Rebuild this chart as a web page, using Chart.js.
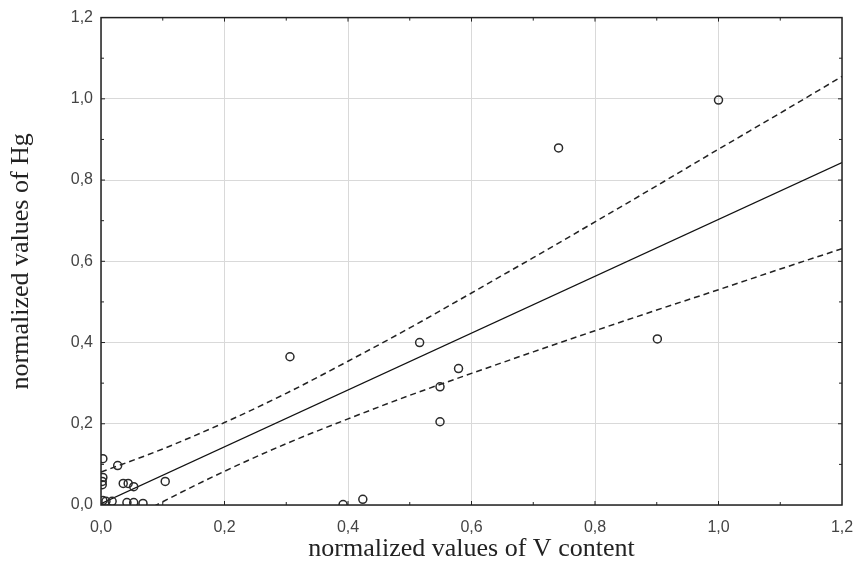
<!DOCTYPE html>
<html>
<head>
<meta charset="utf-8">
<script src="https://cdn.jsdelivr.net/npm/chart.js@4.4.0/dist/chart.umd.min.js"></script>
<style>
  html, body { margin: 0; padding: 0; background: #fff; }
  #wrap { width: 859px; height: 565px; }
</style>
</head>
<body>
<div id="wrap"><canvas id="chart"></canvas></div>
<script>
// measured points: normalized V content vs normalized Hg
const vContent = [0.003, 0.027, 0.003, 0.002, 0.002, 0.036, 0.044, 0.053, 0.104,
                  0.003, 0.008, 0.018, 0.042, 0.053, 0.068,
                  0.392, 0.424, 0.306, 0.516, 0.549, 0.549, 0.579, 0.741, 0.901, 1.0];
const hgValues = [0.114, 0.097, 0.068, 0.058, 0.050, 0.053, 0.053, 0.045, 0.058,
                  0.011, 0.009, 0.009, 0.006, 0.006, 0.004,
                  0.001, 0.014, 0.365, 0.400, 0.205, 0.291, 0.336, 0.879, 0.409, 0.997];

// regression line and confidence band
const fitX = [0, 1.2];
const fitY = [0.003, 0.843];
const bandX = [0, 0.1, 0.2, 0.3, 0.4, 0.5, 0.6, 0.7, 0.8, 0.9, 1.0, 1.1, 1.2];
const bandUpper = [0.081, 0.138, 0.203, 0.275, 0.354, 0.436, 0.522, 0.609, 0.697, 0.786, 0.876, 0.965, 1.055];
const bandLower = [-0.075, 0.008, 0.083, 0.151, 0.212, 0.270, 0.324, 0.377, 0.429, 0.480, 0.530, 0.581, 0.631];

const tickFmt = v => v.toFixed(1).replace('.', ',');
const toXY = (xs, ys) => xs.map((x, i) => ({ x: x, y: ys[i] }));

// frame round the plot with small minor ticks, as in the original
const framePlugin = {
    id: 'frame',
    afterDatasetsDraw(chart) {
        const { ctx, chartArea: a, scales } = chart;
        ctx.save();
        ctx.strokeStyle = '#222';
        ctx.lineWidth = 1.5;
        ctx.strokeRect(a.left, a.top, a.right - a.left, a.bottom - a.top);
        ctx.lineWidth = 1;
        for (let i = 1; i < 12; i++) {
            const v = i / 10;
            const len = i % 2 ? 3 : 4;
            const px = scales.x.getPixelForValue(v);
            const py = scales.y.getPixelForValue(v);
            ctx.beginPath();
            ctx.moveTo(px, a.bottom); ctx.lineTo(px, a.bottom - len);
            ctx.moveTo(px, a.top); ctx.lineTo(px, a.top + len);
            ctx.moveTo(a.left, py); ctx.lineTo(a.left + len, py);
            ctx.moveTo(a.right, py); ctx.lineTo(a.right - len, py);
            ctx.stroke();
        }
        ctx.restore();
    }
};

new Chart(document.getElementById('chart'), {
    type: 'scatter',
    data: {
        datasets: [
            {
                label: 'data',
                data: toXY(vContent, hgValues),
                pointRadius: 4,
                pointBorderWidth: 1.5,
                pointBorderColor: '#2a2a2a',
                pointBackgroundColor: 'rgba(255,255,255,0)',
                order: 0
            },
            {
                type: 'line',
                label: 'fit',
                data: toXY(fitX, fitY),
                borderColor: '#111',
                borderWidth: 1.3,
                pointRadius: 0,
                fill: false
            },
            {
                type: 'line',
                label: 'upper',
                data: toXY(bandX, bandUpper),
                borderColor: '#222',
                borderWidth: 1.5,
                borderDash: [6, 4],
                cubicInterpolationMode: 'monotone',
                pointRadius: 0,
                fill: false
            },
            {
                type: 'line',
                label: 'lower',
                data: toXY(bandX, bandLower),
                borderColor: '#222',
                borderWidth: 1.5,
                borderDash: [6, 4],
                cubicInterpolationMode: 'monotone',
                pointRadius: 0,
                fill: false
            }
        ]
    },
    options: {
        responsive: true,
        maintainAspectRatio: false,
        animation: false,
        layout: { padding: { top: 17, right: 0, left: 0, bottom: 0 } },
        plugins: {
            legend: { display: false },
            tooltip: { enabled: false }
        },
        scales: {
            x: {
                type: 'linear',
                min: 0,
                max: 1.2,
                afterFit: s => { s.height = 60; s.paddingRight = 17; },
                ticks: {
                    stepSize: 0.2,
                    padding: 13,
                    color: '#444',
                    font: { family: 'Liberation Sans, Arial, sans-serif', size: 16 },
                    callback: tickFmt
                },
                grid: { color: '#d9d9d9', drawTicks: false },
                border: { display: false },
                title: {
                    display: true,
                    text: 'normalized values of V content',
                    color: '#222',
                    font: { family: 'Liberation Serif, Times New Roman, serif', size: 26 },
                    padding: { top: 0, bottom: 0 }
                }
            },
            y: {
                type: 'linear',
                min: 0,
                max: 1.2,
                afterFit: s => { s.width = 101; },
                ticks: {
                    stepSize: 0.2,
                    padding: 8,
                    color: '#444',
                    font: { family: 'Liberation Sans, Arial, sans-serif', size: 16 },
                    callback: tickFmt
                },
                grid: { color: '#d9d9d9', drawTicks: false },
                border: { display: false },
                title: {
                    display: true,
                    text: 'normalized values of Hg',
                    color: '#222',
                    font: { family: 'Liberation Serif, Times New Roman, serif', size: 26 },
                    padding: { top: 6, bottom: 0 }
                }
            }
        }
    },
    plugins: [framePlugin]
});
</script>
</body>
</html>
